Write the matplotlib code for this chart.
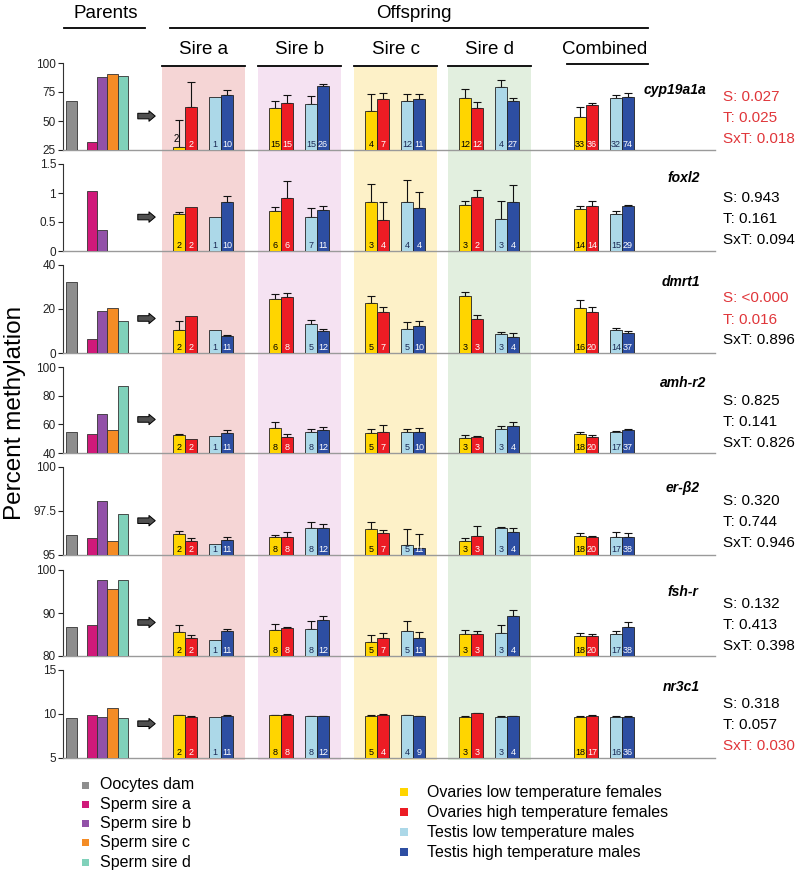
import numpy as np
import matplotlib
matplotlib.use("Agg")
import matplotlib.pyplot as plt
from matplotlib.lines import Line2D
from matplotlib.patches import Rectangle

plt.rcParams['font.family'] = ['Liberation Sans', 'DejaVu Sans']
NARROW = ['Liberation Sans Narrow', 'Liberation Sans', 'DejaVu Sans']

# ---------------- data ----------------
genes = ["cyp19a1a", "foxl2", "dmrt1", "amh-r2", "er-β2", "fsh-r", "nr3c1"]
parent_labels = ["Oocytes dam", "Sperm sire a", "Sperm sire b", "Sperm sire c", "Sperm sire d"]
group_labels = ["Sire a", "Sire b", "Sire c", "Sire d", "Combined"]
series_labels = ["Ovaries low temperature females", "Ovaries high temperature females",
                 "Testis low temperature males", "Testis high temperature males"]

yticks = [[25, 50, 75, 100], [0, 0.5, 1, 1.5], [0, 20, 40], [40, 60, 80, 100],
          [95, 97.5, 100], [80, 90, 100], [5, 10, 15]]

parents_cyp = [67.0, 32.0, 87.8, 90.2, 89.0]
parents_foxl2 = [np.nan, 1.04, 0.37, np.nan, np.nan]
parents_dmrt1 = [32.1, 6.5, 19.0, 20.5, 14.5]
parents_amh = [54.6, 53.6, 67.0, 55.8, 86.5]
parents_er = [96.13, 95.94, 98.08, 95.77, 97.31]
parents_fsh = [86.7, 87.3, 97.6, 95.5, 97.6]
parents_nr3 = [9.52, 9.87, 9.71, 10.67, 9.52]

means_cyp = [[27.9, 61.8, 70.5, 72.5], [60.9, 65.8, 64.7, 80.0], [58.9, 69.0, 67.0, 69.0],
             [69.9, 61.2, 79.1, 67.0], [53.7, 63.5, 69.9, 71.0]]
se_cyp = [[23.1, 21.7, 0, 4.3], [6.1, 6.7, 6.9, 2.0], [14.5, 5.0, 6.0, 4.0],
          [7.5, 5.2, 5.9, 2.6], [8.7, 1.7, 2.9, 3.0]]
n_cyp = [[2, 2, 1, 10], [15, 15, 15, 26], [4, 7, 12, 11], [12, 12, 4, 27], [33, 36, 32, 74]]

means_foxl2 = [[0.64, 0.76, 0.59, 0.85], [0.69, 0.92, 0.59, 0.70], [0.84, 0.53, 0.84, 0.75],
               [0.80, 0.93, 0.56, 0.84], [0.73, 0.77, 0.63, 0.77]]
se_foxl2 = [[0.03, 0, 0, 0.10], [0.07, 0.29, 0.15, 0.07], [0.31, 0.31, 0.38, 0.27],
            [0.07, 0.13, 0.30, 0.29], [0.04, 0.09, 0.06, 0.03]]
n_foxl2 = [[2, 2, 1, 10], [6, 6, 7, 11], [3, 4, 4, 4], [3, 2, 3, 4], [14, 14, 15, 29]]

means_dmrt1 = [[10.3, 16.7, 10.3, 7.7], [24.6, 25.3, 13.0, 10.1], [22.6, 18.7, 10.7, 12.1],
               [25.6, 15.2, 8.6, 7.4], [20.4, 18.6, 10.4, 9.0]]
se_dmrt1 = [[4.2, 0, 0, 0.4], [1.9, 1.7, 1.9, 0.9], [3.0, 2.3, 3.2, 2.4],
            [2.0, 2.1, 1.1, 1.6], [3.6, 2.2, 0.8, 1.1]]
n_dmrt1 = [[2, 2, 1, 11], [6, 8, 5, 12], [5, 7, 5, 10], [3, 3, 3, 4], [16, 20, 14, 37]]

means_amh = [[52.7, 50.1, 52.0, 54.1], [57.6, 51.5, 54.8, 55.8], [53.9, 55.0, 54.8, 54.8],
             [50.8, 51.3, 56.7, 58.8], [53.4, 51.5, 54.8, 56.0]]
se_amh = [[0.9, 0, 0, 1.7], [4.3, 1.9, 1.7, 2.3], [3.0, 4.3, 2.1, 2.8],
          [1.7, 0.9, 2.1, 3.1], [1.2, 1.4, 0.7, 0.9]]
n_amh = [[2, 2, 1, 11], [8, 8, 8, 12], [5, 7, 5, 10], [3, 3, 3, 4], [18, 20, 17, 37]]

means_er = [[96.17, 95.77, 95.63, 95.85], [96.04, 96.04, 96.52, 96.56], [96.46, 96.23, 95.56, 95.42],
            [95.79, 96.06, 96.54, 96.33], [96.10, 96.00, 96.04, 96.00]]
se_er = [[0.21, 0.19, 0, 0.19], [0.11, 0.27, 0.38, 0.19], [0.44, 0.19, 0.94, 0.77],
         [0.17, 0.61, 0.04, 0.21], [0.13, 0.10, 0.27, 0.25]]
n_er = [[2, 2, 1, 11], [8, 8, 8, 12], [5, 7, 5, 11], [3, 3, 3, 4], [18, 20, 17, 38]]

means_fsh = [[85.5, 84.2, 83.8, 85.9], [86.1, 86.4, 86.2, 88.4], [83.2, 84.1, 85.9, 84.1],
             [85.1, 85.1, 85.3, 89.4], [84.7, 84.7, 85.2, 86.8]]
se_fsh = [[1.6, 0.6, 0, 0.4], [1.3, 0.4, 2.0, 0.8], [1.7, 1.2, 2.2, 1.4],
          [1.0, 0.8, 2.0, 1.2], [0.7, 0.4, 0.5, 1.2]]
n_fsh = [[2, 2, 1, 11], [8, 8, 8, 12], [5, 7, 5, 11], [3, 3, 3, 4], [18, 20, 17, 38]]

means_nr3 = [[9.83, 9.71, 9.71, 9.79], [9.87, 9.90, 9.79, 9.79], [9.79, 9.90, 9.90, 9.79],
             [9.71, 10.06, 9.71, 9.79], [9.71, 9.79, 9.71, 9.71]]
se_nr3 = [[0.06, 0.03, 0, 0.04], [0.06, 0.05, 0.03, 0.03], [0.04, 0.06, 0.04, 0.03],
          [0.04, 0.07, 0.02, 0.03], [0.03, 0.04, 0.03, 0.02]]
n_nr3 = [[2, 2, 1, 11], [8, 8, 8, 12], [5, 4, 4, 9], [3, 3, 3, 4], [18, 17, 16, 36]]

p_sire = ["0.027", "0.943", "<0.000", "0.825", "0.320", "0.132", "0.318"]
p_temp = ["0.025", "0.161", "0.016", "0.141", "0.744", "0.413", "0.057"]
p_sxt = ["0.018", "0.094", "0.896", "0.826", "0.946", "0.398", "0.030"]

parents_all = [parents_cyp, parents_foxl2, parents_dmrt1, parents_amh, parents_er, parents_fsh, parents_nr3]
means_all = [means_cyp, means_foxl2, means_dmrt1, means_amh, means_er, means_fsh, means_nr3]
se_all = [se_cyp, se_foxl2, se_dmrt1, se_amh, se_er, se_fsh, se_nr3]
n_all = [n_cyp, n_foxl2, n_dmrt1, n_amh, n_er, n_fsh, n_nr3]

# ---------------- style / layout ----------------
parent_colors = ["#8e8e8e", "#d0197a", "#9251a8", "#f48c25", "#80d1ba"]
series_colors = ["#ffd500", "#ec1c24", "#acd8e8", "#2d4ea2"]
count_colors = ["black", "white", "#1b2a55", "white"]
band_colors = ["#f5d5d5", "#f5e2f2", "#fdf1c8", "#e2efdf"]
RED_TXT = "#e0363a"

W, H = 800, 873
fig = plt.figure(figsize=(W / 100, H / 100), dpi=100)

def fx(x):
    return x / W

def fy(y):
    return 1 - y / H

X0, X1 = 63, 715
tops = [63, 164, 264.5, 367, 467, 570, 670]
bots = [150, 251, 353, 453, 555, 656, 758]
xmax = X1 - X0
parent_x = [8.5, 29, 39.2, 49.4, 59.6]
parent_w = [11, 10.2, 10.2, 10.2, 10.2]
group_x = [140.5, 236.5, 332.5, 426.5, 541.5]
offsets = [-24.5, -12.5, 11.5, 23.5]
bw = 12
band_w = 83
label_right = [706, 700, 700, 706, 700, 698, 700]
label_dy = [27, 14, 17, 16, 21, 22, 17]

# background bands axes
bg = fig.add_axes([fx(X0), fy(760), fx(X1) - fx(X0), fy(67) - fy(760)], zorder=0)
bg.set_xlim(0, xmax)
bg.set_ylim(0, 1)
bg.axis('off')
for gx, bc in zip(group_x[:4], band_colors):
    bg.add_patch(Rectangle((gx - band_w / 2, 0), band_w, 1, facecolor=bc, edgecolor='none'))

for r in range(len(genes)):
    ax = fig.add_axes([fx(X0), fy(bots[r]), fx(X1) - fx(X0), fy(tops[r]) - fy(bots[r])], zorder=2)
    ax.patch.set_alpha(0)
    lo, hi = yticks[r][0], yticks[r][-1]
    ax.set_xlim(0, xmax)
    ax.set_ylim(lo, hi)
    ax.set_yticks(yticks[r])
    ax.set_yticklabels(["%g" % t for t in yticks[r]], family=NARROW)
    ax.tick_params(axis='y', labelsize=8.5, length=3.5, width=0.8, pad=1.5, colors='#222222')
    ax.set_xticks([])
    for s in ['top', 'right']:
        ax.spines[s].set_visible(False)
    ax.spines['left'].set_color('#333333')
    ax.spines['left'].set_linewidth(0.8)
    ax.spines['bottom'].set_color('#9a9a9a')
    ax.spines['bottom'].set_linewidth(1.0)

    # parents
    pv = np.array(parents_all[r], dtype=float)
    for k in range(5):
        if not np.isnan(pv[k]):
            ax.bar(parent_x[k], pv[k] - lo, width=parent_w[k], bottom=lo, color=parent_colors[k],
                   edgecolor='#333333', linewidth=0.6, zorder=3)

    # arrow
    ax.annotate('', xy=(95, 0.39), xytext=(72, 0.39), xycoords=ax.get_xaxis_transform(),
                textcoords=ax.get_xaxis_transform(),
                arrowprops=dict(arrowstyle='simple,head_length=0.45,head_width=0.75,tail_width=0.4',
                                fc='#505050', ec='black', lw=0.7))

    means = np.array(means_all[r])
    ses = np.array(se_all[r])
    ns = np.array(n_all[r])
    for g in range(5):
        for s in range(4):
            x = group_x[g] + offsets[s]
            m = means[g, s]
            ax.bar(x, m - lo, width=bw, bottom=lo, color=series_colors[s],
                   edgecolor='#222222', linewidth=0.6, zorder=3)
            if ses[g, s] > 0:
                ax.errorbar(x, m, yerr=[[0], [ses[g, s]]], fmt='none', ecolor='#111111',
                            elinewidth=0.8, capsize=3, capthick=0.8, zorder=2.5)
            frac = (m - lo) / (hi - lo)
            if frac < 0.05:
                ax.text(x - 3, m + 0.03 * (hi - lo), str(ns[g, s]), ha='center', va='bottom',
                        fontsize=7, color='black', family=NARROW, zorder=4)
            else:
                ax.text(x, 0.015, str(ns[g, s]), transform=ax.get_xaxis_transform(),
                        ha='center', va='bottom', fontsize=6.5, color=count_colors[s],
                        family=NARROW, zorder=4)

    # gene label
    fig.text(fx(label_right[r]), fy(tops[r] + label_dy[r]), genes[r], ha='right', va='center',
             fontsize=10, fontweight='bold', fontstyle='italic', family=NARROW)

    # stats
    for j, (pre, pval) in enumerate(zip(["S: ", "T: ", "SxT: "], [p_sire[r], p_temp[r], p_sxt[r]])):
        num = float(pval.replace('<', ''))
        col = RED_TXT if num < 0.05 else 'black'
        fig.text(fx(723), fy(tops[r] + 34 + 21 * j), pre + pval, ha='left', va='center',
                 fontsize=11, color=col)

# headers
fig.text(fx(106), fy(13), "Parents", ha='center', va='center', fontsize=13.5)
fig.text(fx(414), fy(13), "Offspring", ha='center', va='center', fontsize=13.5)
fig.add_artist(Line2D([fx(64), fx(145)], [fy(28), fy(28)], color='black', lw=1.3))
fig.add_artist(Line2D([fx(170), fx(648)], [fy(28), fy(28)], color='black', lw=1.3))
for g in range(5):
    cx = X0 + group_x[g]
    fig.text(fx(cx), fy(50), group_labels[g], ha='center', va='center', fontsize=13.5)
    if g < 4:
        fig.add_artist(Line2D([fx(cx - band_w / 2), fx(cx + band_w / 2)], [fy(66), fy(66)],
                              color='black', lw=1.3))
    else:
        fig.add_artist(Line2D([fx(cx - 38), fx(cx + 43)], [fy(64), fy(64)], color='black', lw=1.3))

fig.text(fx(15), fy(413), "Percent methylation", rotation=90, ha='center', va='center', fontsize=17.5)

# legends
for k, lab in enumerate(parent_labels):
    yy = 785 + 19.3 * k
    fig.add_artist(Rectangle((fx(82), fy(yy + 3.5)), 7 / W, 7 / H, facecolor=parent_colors[k],
                             edgecolor='none', transform=fig.transFigure))
    fig.text(fx(100), fy(yy), lab, ha='left', va='center', fontsize=11.5)
for k, lab in enumerate(series_labels):
    yy = 792 + 20 * k
    fig.add_artist(Rectangle((fx(400), fy(yy + 4)), 8 / W, 8 / H, facecolor=series_colors[k],
                             edgecolor='none', transform=fig.transFigure))
    fig.text(fx(427), fy(yy), lab, ha='left', va='center', fontsize=11.5)

fig.savefig("out.png", dpi=100)
